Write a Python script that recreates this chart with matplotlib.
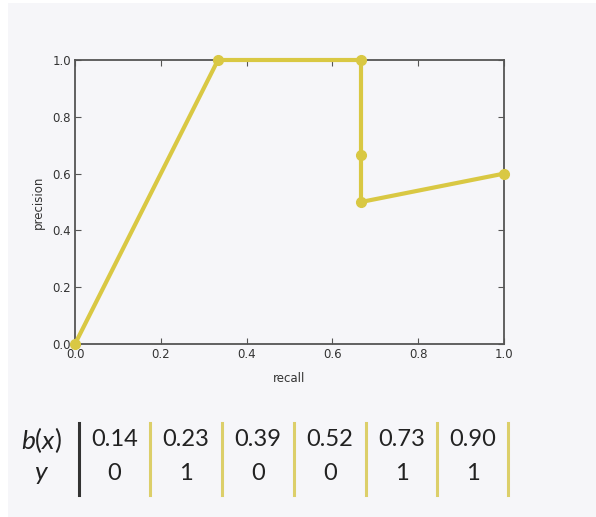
import matplotlib
matplotlib.use('Agg')
import matplotlib.pyplot as plt
from matplotlib.lines import Line2D
from matplotlib.patches import Rectangle

# precision / recall curve points
recall = [0.0, 1/3, 2/3, 2/3, 2/3, 1.0]
precision = [0.0, 1.0, 1.0, 2/3, 0.5, 0.6]

# table under the plot
scores = ['0.14', '0.23', '0.39', '0.52', '0.73', '0.90']
labels = ['0', '1', '0', '0', '1', '1']

bg = '#f6f6f9'
yel = '#d9c843'
W, H = 596, 517

plt.rcParams['mathtext.fontset'] = 'custom'
plt.rcParams['mathtext.it'] = 'Lato:italic'
plt.rcParams['mathtext.rm'] = 'Lato'
fig = plt.figure(figsize=(W/100, H/100), dpi=100, facecolor='white')
fig.patches.append(Rectangle((8/W, 0), 1, 1 - 3/H, transform=fig.transFigure,
                             facecolor=bg, edgecolor='none', zorder=-10))

ax = fig.add_axes([75/W, 1 - 344/H, (504-75)/W, (344-60)/H])
ax.set_facecolor(bg)
ax.plot(recall, precision, color=yel, lw=3, marker='o', ms=7, mec=yel,
        clip_on=False, zorder=5)
ax.set_xlim(0, 1)
ax.set_ylim(0, 1)
ax.set_xticks([0, 0.2, 0.4, 0.6, 0.8, 1.0])
ax.set_yticks([0, 0.2, 0.4, 0.6, 0.8, 1.0])
ax.tick_params(direction='in', top=True, right=True, length=4, color='#555555',
               labelsize=8.5, labelcolor='#333333', pad=3)
for s in ax.spines.values():
    s.set_color('#555555')
    s.set_linewidth(1.3)
ax.set_xlabel('recall', fontsize=8.5, color='#333333', labelpad=8)
ax.set_ylabel('precision', fontsize=8.5, color='#333333', labelpad=5)

# table
row1, row2 = 1 - 440/H, 1 - 473/H
fig.text(41/W, row1, '$b(x)$', fontsize=19, ha='center', va='center', color='#222222')
fig.text(42/W, row2, '$y$', fontsize=19, ha='center', va='center', color='#222222')
seps = [79, 150, 222, 294, 366, 437, 508]
top, bot = 1 - 423/H, 1 - 495/H
for i, x in enumerate(seps):
    c = '#333333' if i == 0 else '#dccf6a'
    fig.lines.append(Line2D([x/W, x/W], [bot, top], transform=fig.transFigure,
                            color=c, lw=2.2))
for i in range(len(scores)):
    cx = (seps[i] + seps[i+1]) / 2 / W
    fig.text(cx, row1, scores[i], fontsize=17, family='Lato', ha='center',
             va='center', color='#222222')
    fig.text(cx, row2, labels[i], fontsize=17, family='Lato', ha='center',
             va='center', color='#222222')

fig.savefig('out.png', dpi=100, facecolor=fig.get_facecolor())
